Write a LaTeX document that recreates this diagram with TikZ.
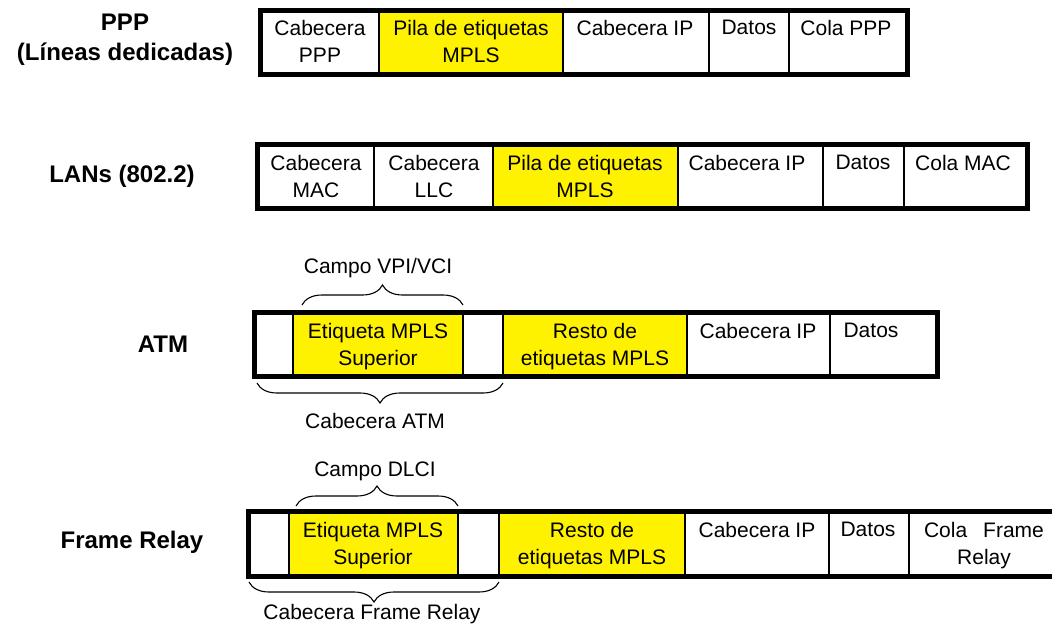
\documentclass[tikz,border=0pt]{standalone}
\usepackage{fontspec}
\setmainfont{Liberation Sans}
\usetikzlibrary{decorations.pathreplacing}
\begin{document}
\begin{tikzpicture}[x=1pt,y=-1pt,
  cellw/.style={draw=black,line width=1.6pt,fill=white},
  celly/.style={draw=black,line width=1.6pt,fill=yellow},
  outer/.style={draw=black,line width=5pt},
  ctext/.style={font=\fontsize{21}{27}\selectfont,align=center,anchor=north,inner sep=0pt},
  lbl/.style={font=\fontsize{24}{30}\selectfont\bfseries,align=center,inner sep=0pt},
  brc/.style={draw=black,line width=1.1pt,decorate,decoration={brace,amplitude=20pt}},
  btext/.style={font=\fontsize{21}{27}\selectfont,inner sep=0pt}]
\clip (0,0) rectangle (1052,629);
\fill[white] (0,0) rectangle (1052,629);

% ---------- Row 1: PPP ----------
\node[lbl] (l1) at (125,40) {PPP\\(Líneas dedicadas)};
\draw[cellw] (260,10) rectangle (379,74);
\draw[celly] (379,10) rectangle (563,74);
\draw[cellw] (563,10) rectangle (709,74);
\draw[cellw] (709,10) rectangle (789,74);
\draw[cellw] (789,10) rectangle (907,74);
\draw[outer] (260,10) rectangle (907,74);
\node[ctext] (r1a) at (320,20) {Cabecera\\PPP};
\node[ctext] (r1b) at (471,20) {Pila de etiquetas\\MPLS};
\node[ctext] (r1c) at (635,20) {Cabecera IP};
\node[ctext] (r1d) at (749,20) {Datos};
\node[ctext] (r1e) at (846,20) {Cola PPP};

% ---------- Row 2: LANs ----------
\node[lbl] (l2) at (122,176) {LANs (802.2)};
\draw[cellw] (257.5,144.5) rectangle (374,208.5);
\draw[cellw] (374,144.5) rectangle (493,208.5);
\draw[celly] (493,144.5) rectangle (678,208.5);
\draw[cellw] (678,144.5) rectangle (823,208.5);
\draw[cellw] (823,144.5) rectangle (904,208.5);
\draw[cellw] (904,144.5) rectangle (1027.5,208.5);
\draw[outer] (257.5,144.5) rectangle (1027.5,208.5);
\node[ctext] (r2a) at (316,155) {Cabecera\\MAC};
\node[ctext] (r2b) at (434,155) {Cabecera\\LLC};
\node[ctext] (r2c) at (585,155) {Pila de etiquetas\\MPLS};
\node[ctext] (r2d) at (747,155) {Cabecera IP};
\node[ctext] (r2e) at (863,155) {Datos};
\node[ctext] (r2f) at (963,155) {Cola MAC};

% ---------- Row 3: ATM ----------
\node[lbl] (l3) at (163,344) {ATM};
\draw[cellw] (254.5,312.5) rectangle (293,376.5);
\draw[celly] (293,312.5) rectangle (463,376.5);
\draw[cellw] (463,312.5) rectangle (503,376.5);
\draw[celly] (503,312.5) rectangle (687,376.5);
\draw[cellw] (687,312.5) rectangle (830,376.5);
\draw[cellw] (830,312.5) rectangle (937.5,376.5);
\draw[outer] (254.5,312.5) rectangle (937.5,376.5);
\node[ctext] (r3b) at (378,323) {Etiqueta MPLS\\Superior};
\node[ctext] (r3d) at (595,323) {Resto de\\etiquetas MPLS};
\node[ctext] (r3e) at (758,323) {Cabecera IP};
\node[ctext] (r3f) at (871,323) {Datos};
\coordinate (a1) at (302,305);
\coordinate (a2) at (463,305);
\coordinate (a3) at (503,383);
\coordinate (a4) at (257,383);
\draw[brc] (a1) -- (a2);
\draw[brc] (a3) -- (a4);
\node[btext] (t3a) at (378,268) {Campo VPI/VCI};
\node[btext] (t3b) at (375,421) {Cabecera ATM};

% ---------- Row 4: Frame Relay ----------
\node[lbl] (l4) at (132,542) {Frame Relay};
\draw[cellw] (248.5,511.5) rectangle (289,576.5);
\draw[celly] (289,511.5) rectangle (458,576.5);
\draw[cellw] (458,511.5) rectangle (499,576.5);
\draw[celly] (499,511.5) rectangle (685,576.5);
\draw[cellw] (685,511.5) rectangle (829,576.5);
\draw[cellw] (829,511.5) rectangle (909,576.5);
\draw[cellw] (909,511.5) rectangle (1062,576.5);
\draw[outer] (248.5,511.5) rectangle (1062,576.5);
\node[ctext] (r4b) at (373,522) {Etiqueta MPLS\\Superior};
\node[ctext] (r4d) at (592,522) {Resto de\\etiquetas MPLS};
\node[ctext] (r4e) at (757,522) {Cabecera IP};
\node[ctext] (r4f) at (868,522) {Datos};
\node[ctext] (r4g) at (984,522) {Cola\hspace{16pt}Frame\\Relay};
\coordinate (f1) at (296,506);
\coordinate (f2) at (458,506);
\coordinate (f3) at (499,582);
\coordinate (f4) at (249,582);
\draw[brc] (f1) -- (f2);
\draw[brc] (f3) -- (f4);
\node[btext] (t4a) at (375,471) {Campo DLCI};
\node[btext] (t4b) at (372,614) {Cabecera Frame Relay};
\end{tikzpicture}
\end{document}
